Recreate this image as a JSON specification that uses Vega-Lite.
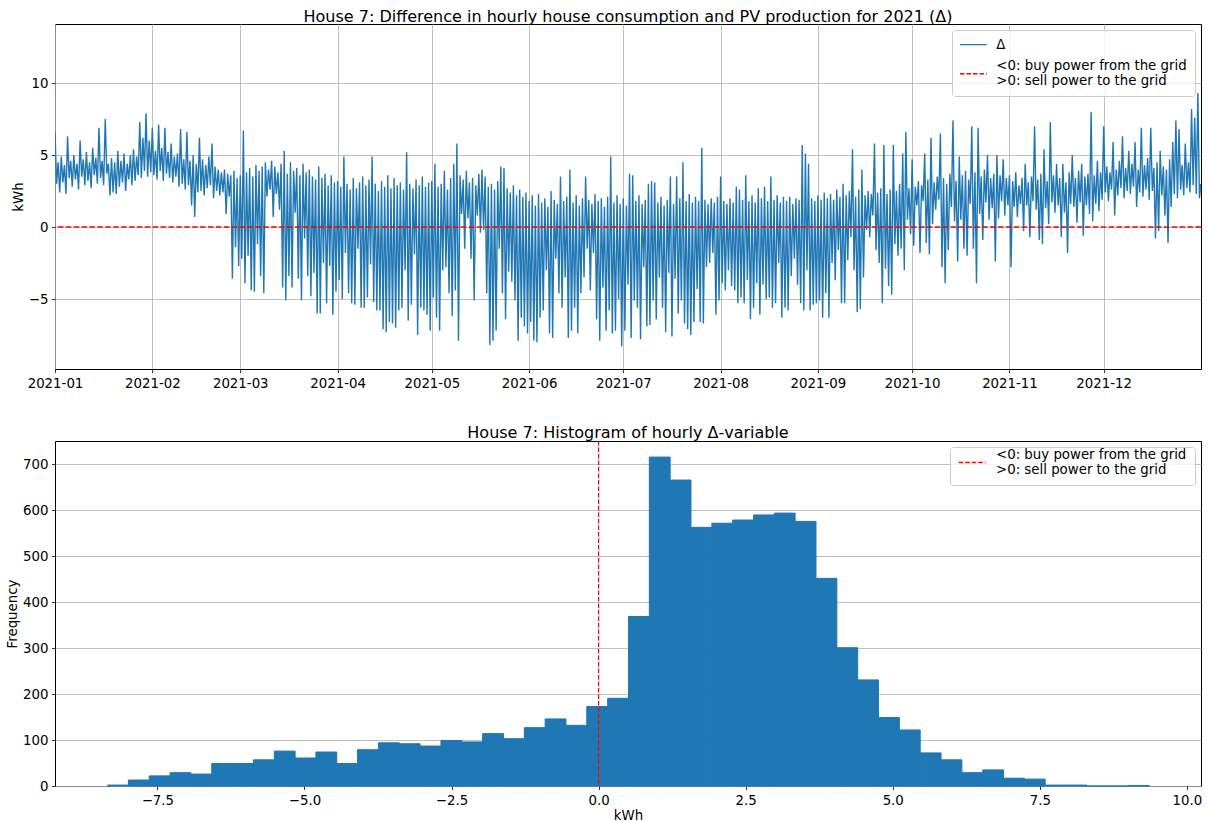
{
"$schema": "https://vega.github.io/schema/vega-lite/v6.json",
"background": "white",
"padding": {"left": 5, "top": 8, "right": 5, "bottom": 5},
"spacing": 34,
"config": {
  "font": "DejaVu Sans",
  "view": {"stroke": "black", "strokeWidth": 1},
  "axis": {"domain": false, "tickColor": "black", "tickSize": 3.5, "tickWidth": 0.8, "labelFontSize": 13.33, "labelColor": "black", "labelFont": "DejaVu Sans", "titleFont": "DejaVu Sans", "titleFontSize": 13.33, "titleFontWeight": "normal", "titleColor": "black", "gridColor": "#b0b0b0", "gridWidth": 0.8, "labelPadding": 3.5, "labelFlush": false},
  "title": {"fontSize": 16, "fontWeight": "normal", "font": "DejaVu Sans", "color": "black", "offset": -1, "anchor": "middle"}
},
"resolve": {"scale": {"color": "independent"}, "legend": {"color": "independent"}},
"vconcat": [
{
  "width": 1146, "height": 345,
  "title": "House 7: Difference in hourly house consumption and PV production for 2021 (Δ)",
  "layer": [
    {
      "data": {"values": "t,v\n0,6.6\n0.5,3.0\n1,4.5\n1.5,2.4\n2,4.9\n2.5,3.1\n3,4.3\n3.5,2.3\n4,6.3\n4.5,3.4\n5,4.6\n5.5,2.8\n6,5.0\n6.5,3.3\n7,4.4\n7.5,2.6\n8,6.0\n8.5,3.5\n9,4.7\n9.5,2.9\n10,5.2\n10.5,3.2\n11,4.5\n11.5,2.7\n12,5.5\n12.5,3.6\n13,4.8\n13.5,3.0\n14,6.9\n14.5,3.4\n15,4.6\n15.5,2.9\n16,7.5\n16.5,3.7\n17,4.4\n17.5,2.2\n18,4.8\n18.5,2.4\n19,4.5\n19.5,2.3\n20,5.3\n20.5,2.8\n21,4.6\n21.5,3.1\n22,5.1\n22.5,2.5\n23,4.4\n23.5,3.3\n24,5.0\n24.5,2.9\n25,5.4\n25.5,3.2\n26,4.9\n26.5,3.6\n27,7.3\n27.5,3.4\n28,6.2\n28.5,3.9\n29,7.9\n29.5,3.5\n30,6.0\n30.5,3.8\n31,6.9\n31.5,3.6\n32,5.3\n32.5,3.3\n33,7.1\n33.5,3.9\n34,5.5\n34.5,3.2\n35,6.9\n35.5,3.7\n36,5.2\n36.5,3.4\n37,5.8\n37.5,3.1\n38,4.9\n38.5,3.5\n39,5.1\n39.5,2.8\n40,6.8\n40.5,3.0\n41,4.7\n41.5,2.6\n42,6.6\n42.5,2.9\n43,4.6\n43.5,1.5\n44,5.0\n44.5,0.7\n45,4.4\n45.5,2.4\n46,6.2\n46.5,2.5\n47,4.7\n47.5,2.2\n48,4.3\n48.5,2.7\n49,4.9\n49.5,2.9\n50,5.8\n50.5,2.0\n51,4.2\n51.5,2.5\n52,4.0\n52.5,2.2\n53,3.8\n53.5,2.4\n54,4.0\n54.5,0.9\n55,3.7\n55.5,2.1\n56,3.6\n56.5,-3.6\n57,3.9\n57.5,-1.4\n58,3.4\n58.5,-2.7\n59,3.6\n59.5,-2.2\n60,6.7\n60.5,-3.9\n61,3.8\n61.5,-2.0\n62,4.1\n62.5,-4.4\n63,3.5\n63.5,-4.5\n64,4.3\n64.5,-1.2\n65,3.9\n65.5,-3.4\n66,4.2\n66.5,-4.6\n67,4.5\n67.5,2.1\n68,4.0\n68.5,2.6\n69,4.6\n69.5,0.7\n70,4.2\n70.5,2.3\n71,3.8\n71.5,1.2\n72,4.4\n72.5,-4.2\n73,5.3\n73.5,-5.1\n74,3.7\n74.5,-3.4\n75,4.5\n75.5,-4.2\n76,3.9\n76.5,1.0\n77,4.1\n77.5,-3.6\n78,3.6\n78.5,-5.1\n79,4.4\n79.5,-0.8\n80,3.8\n80.5,-3.4\n81,4.0\n81.5,-4.8\n82,3.5\n82.5,-3.2\n83,3.3\n83.5,-6.0\n84,4.2\n84.5,-6.0\n85,3.4\n85.5,-2.5\n86,3.7\n86.5,-5.3\n87,2.9\n87.5,-2.7\n88,3.6\n88.5,-6.1\n89,3.1\n89.5,-4.5\n90,3.2\n90.5,-3.7\n91,2.8\n91.5,-5.0\n92,4.9\n92.5,-1.8\n93,3.0\n93.5,-4.6\n94,2.6\n94.5,-5.3\n95,3.4\n95.5,-5.4\n96,2.7\n96.5,-1.5\n97,3.1\n97.5,-5.6\n98,3.5\n98.5,-5.6\n99,2.9\n99.5,-4.9\n100,3.3\n100.5,-2.6\n101,4.9\n101.5,-5.2\n102,3.0\n102.5,-5.8\n103,2.5\n103.5,-5.8\n104,3.2\n104.5,-7.1\n105,2.8\n105.5,-7.3\n106,3.6\n106.5,-6.6\n107,2.7\n107.5,-6.7\n108,3.4\n108.5,-7.0\n109,2.9\n109.5,-5.8\n110,3.1\n110.5,-5.6\n111,2.6\n111.5,-3.0\n112,5.2\n112.5,-6.5\n113,3.0\n113.5,-5.4\n114,2.7\n114.5,-1.9\n115,3.3\n115.5,-7.5\n116,2.9\n116.5,-5.6\n117,3.5\n117.5,-5.8\n118,2.8\n118.5,-6.1\n119,3.1\n119.5,-7.2\n120,3.2\n120.5,-4.9\n121,4.4\n121.5,-6.3\n122,2.8\n122.5,-7.2\n123,3.0\n123.5,-3.0\n124,3.9\n124.5,-2.8\n125,2.6\n125.5,-4.6\n126,3.4\n126.5,-6.2\n127,4.4\n127.5,-4.4\n128,5.8\n128.5,-7.9\n129,3.6\n129.5,0.9\n130,3.3\n130.5,-1.5\n131,3.9\n131.5,0.6\n132,3.1\n132.5,-2.2\n133,3.4\n133.5,-5.1\n134,2.9\n134.5,0.8\n135,3.7\n135.5,-0.4\n136,4.0\n136.5,-0.2\n137,3.5\n137.5,-4.6\n138,2.8\n138.5,-8.2\n139,3.0\n139.5,-7.9\n140,2.6\n140.5,-7.2\n141,3.2\n141.5,-1.5\n142,4.2\n142.5,-4.6\n143,4.1\n143.5,-6.4\n144,2.7\n144.5,-3.1\n145,2.4\n145.5,-3.8\n146,2.9\n146.5,-5.1\n147,2.2\n147.5,-7.9\n148,2.6\n148.5,-6.3\n149,2.1\n149.5,-6.9\n150,2.4\n150.5,-7.4\n151,1.8\n151.5,-6.6\n152,2.2\n152.5,-7.9\n153,1.5\n153.5,-8.0\n154,2.3\n154.5,-6.3\n155,1.7\n155.5,-5.8\n156,2.0\n156.5,-3.0\n157,1.4\n157.5,-7.4\n158,2.5\n158.5,-7.7\n159,1.9\n159.5,-2.2\n160,1.6\n160.5,-4.6\n161,3.5\n161.5,-5.6\n162,1.8\n162.5,-3.5\n163,2.1\n163.5,-7.7\n164,4.0\n164.5,-7.2\n165,1.7\n165.5,-5.6\n166,2.2\n166.5,-7.4\n167,1.5\n167.5,-4.6\n168,2.0\n168.5,-3.5\n169,3.5\n169.5,-1.5\n170,1.9\n170.5,-4.4\n171,1.6\n171.5,-1.8\n172,2.3\n172.5,-6.4\n173,1.8\n173.5,-7.9\n174,2.0\n174.5,-4.2\n175,1.4\n175.5,-7.2\n176,2.1\n176.5,-5.8\n177,4.9\n177.5,-7.4\n178,1.7\n178.5,-7.2\n179,2.2\n179.5,-5.0\n180,1.6\n180.5,-8.3\n181,2.0\n181.5,-7.2\n182,1.5\n182.5,-4.0\n183,3.7\n183.5,-7.7\n184,3.6\n184.5,-5.1\n185,1.8\n185.5,-5.6\n186,2.2\n186.5,-7.8\n187,1.6\n187.5,-2.8\n188,1.9\n188.5,-6.9\n189,3.0\n189.5,-6.8\n190,3.2\n190.5,-5.1\n191,3.1\n191.5,-6.4\n192,1.7\n192.5,-3.5\n193,2.1\n193.5,-5.6\n194,1.5\n194.5,-7.3\n195,1.9\n195.5,-3.2\n196,3.5\n196.5,-7.6\n197,1.6\n197.5,-3.6\n198,3.5\n198.5,-6.0\n199,2.0\n199.5,-5.1\n200,4.5\n200.5,-6.7\n201,1.8\n201.5,-7.1\n202,2.3\n202.5,-7.5\n203,1.7\n203.5,-6.6\n204,2.1\n204.5,-4.3\n205,1.8\n205.5,-6.6\n206,5.5\n206.5,-6.7\n207,1.9\n207.5,-2.8\n208,1.6\n208.5,-2.5\n209,2.0\n209.5,-1.8\n210,1.7\n210.5,-6.1\n211,2.1\n211.5,-5.1\n212,3.5\n212.5,-3.9\n213,1.8\n213.5,-4.4\n214,1.6\n214.5,-3.0\n215,2.0\n215.5,-4.1\n216,1.7\n216.5,-4.4\n217,2.8\n217.5,-5.3\n218,2.6\n218.5,-4.9\n219,1.9\n219.5,-5.3\n220,3.6\n220.5,-3.7\n221,1.8\n221.5,-6.4\n222,2.2\n222.5,-5.6\n223,1.7\n223.5,-3.9\n224,2.7\n224.5,-6.1\n225,2.0\n225.5,-4.0\n226,2.8\n226.5,-5.0\n227,1.8\n227.5,-4.9\n228,3.5\n228.5,-5.6\n229,1.9\n229.5,-5.3\n230,2.2\n230.5,-2.5\n231,1.7\n231.5,-6.3\n232,2.1\n232.5,-5.6\n233,1.8\n233.5,-5.8\n234,2.1\n234.5,-3.4\n235,1.6\n235.5,-2.2\n236,2.0\n236.5,-4.0\n237,1.9\n237.5,-5.3\n238,5.7\n238.5,-5.8\n239,5.1\n239.5,-3.0\n240,4.4\n240.5,-5.8\n241,2.0\n241.5,-5.4\n242,1.8\n242.5,-5.3\n243,2.2\n243.5,-5.1\n244,1.9\n244.5,-6.3\n245,2.4\n245.5,-4.6\n246,2.0\n246.5,-6.3\n247,2.3\n247.5,-2.5\n248,1.9\n248.5,-3.7\n249,2.6\n249.5,-1.6\n250,2.1\n250.5,-5.3\n251,3.0\n251.5,-5.3\n252,2.2\n252.5,-2.3\n253,2.5\n253.5,-0.7\n254,5.4\n254.5,-3.0\n255,2.1\n255.5,-5.9\n256,2.6\n256.5,-5.7\n257,4.0\n257.5,-3.5\n258,2.2\n258.5,-0.2\n259,2.5\n259.5,-0.7\n260,2.3\n260.5,0.8\n261,5.8\n261.5,-1.6\n262,2.4\n262.5,-2.5\n263,2.7\n263.5,-5.3\n264,5.7\n264.5,-2.9\n265,2.3\n265.5,-4.1\n266,2.6\n266.5,-4.7\n267,5.7\n267.5,-1.2\n268,2.5\n268.5,-2.0\n269,3.0\n269.5,-1.5\n270,5.1\n270.5,-3.0\n271,6.6\n271.5,0.5\n272,2.7\n272.5,-0.5\n273,4.7\n273.5,-1.3\n274,2.8\n274.5,1.5\n275,3.2\n275.5,-1.8\n276,2.9\n276.5,1.8\n277,5.1\n277.5,-1.1\n278,3.3\n278.5,-1.9\n279,6.2\n279.5,0.2\n280,3.1\n280.5,1.2\n281,3.5\n281.5,1.9\n282,6.5\n282.5,-2.8\n283,3.4\n283.5,-3.9\n284,3.0\n284.5,-1.6\n285,3.7\n285.5,1.4\n286,7.4\n286.5,0.4\n287,3.2\n287.5,-2.4\n288,4.9\n288.5,0.5\n289,3.6\n289.5,-1.5\n290,3.9\n290.5,-2.0\n291,3.3\n291.5,1.6\n292,7.0\n292.5,-1.5\n293,3.8\n293.5,-3.9\n294,6.9\n294.5,0.9\n295,3.5\n295.5,-0.9\n296,4.0\n296.5,1.7\n297,5.0\n297.5,0.5\n298,3.4\n298.5,1.3\n299,3.7\n299.5,-2.4\n300,5.0\n300.5,0.6\n301,3.6\n301.5,1.8\n302,4.7\n302.5,0.8\n303,3.4\n303.5,1.5\n304,3.6\n304.5,-2.8\n305,3.2\n305.5,1.4\n306,3.8\n306.5,0.7\n307,2.9\n307.5,1.6\n308,3.4\n308.5,-0.3\n309,4.4\n309.5,1.5\n310,3.1\n310.5,-0.7\n311,3.5\n311.5,1.8\n312,7.0\n312.5,1.2\n313,3.3\n313.5,-0.9\n314,3.7\n314.5,-1.2\n315,5.4\n315.5,1.3\n316,3.2\n316.5,0.2\n317,7.3\n317.5,1.7\n318,3.6\n318.5,1.0\n319,4.4\n319.5,1.5\n320,3.4\n320.5,-0.7\n321,4.4\n321.5,1.0\n322,3.1\n322.5,-1.8\n323,3.8\n323.5,1.6\n324,5.0\n324.5,1.4\n325,3.4\n325.5,0.3\n326,3.9\n326.5,1.7\n327,4.4\n327.5,-0.6\n328,3.5\n328.5,1.5\n329,3.7\n329.5,0.9\n330,8.0\n330.5,0.4\n331,3.6\n331.5,1.6\n332,4.6\n332.5,1.1\n333,3.8\n333.5,1.9\n334,7.0\n334.5,2.4\n335,4.2\n335.5,1.8\n336,3.8\n336.5,2.6\n337,5.9\n337.5,0.8\n338,4.0\n338.5,2.2\n339,4.6\n339.5,2.7\n340,6.3\n340.5,2.0\n341,4.1\n341.5,2.5\n342,5.3\n342.5,2.3\n343,4.4\n343.5,2.8\n344,5.9\n344.5,1.4\n345,4.0\n345.5,2.4\n346,6.9\n346.5,2.1\n347,4.3\n347.5,2.6\n348,4.8\n348.5,1.9\n349,6.9\n349.5,2.5\n350,4.1\n350.5,-0.8\n351,4.5\n351.5,-0.3\n352,5.3\n352.5,2.2\n353,4.2\n353.5,0.8\n354,4.0\n354.5,-1.1\n355,4.7\n355.5,1.4\n356,5.9\n356.5,2.3\n357,7.4\n357.5,2.0\n358,6.8\n358.5,2.6\n359,4.3\n359.5,2.2\n360,5.8\n360.5,2.7\n361,4.5\n361.5,2.4\n362,8.2\n362.5,2.9\n363,7.6\n363.5,2.3\n364,9.3\n364.5,2.0\n364.95,3.0", "format": {"type": "csv", "parse": {"t": "number", "v": "number"}}},
      "mark": {"type": "line", "strokeWidth": 1.4, "clip": true},
      "encoding": {
        "x": {"field": "t", "type": "quantitative", "scale": {"domain": [0, 365], "nice": false, "zero": false},
              "axis": {"values": [0, 31, 59, 90, 120, 151, 181, 212, 243, 273, 304, 334], "labelExpr": "timeFormat(datetime(2021, 0, 1 + datum.value), '%Y-%m')", "title": null, "grid": true}},
        "y": {"field": "v", "type": "quantitative", "scale": {"domain": [-9.86, 14.1], "nice": false, "zero": false},
              "axis": {"values": [-5, 0, 5, 10], "labelExpr": "replace(format(datum.value, 'd'), '-', '−')", "title": "kWh", "titlePadding": 3, "grid": true}},
        "color": {"datum": "Δ", "type": "nominal",
          "scale": {"domain": ["Δ", "L"], "range": ["#1f77b4", "red"]},
          "legend": {"title": null, "orient": "top-right", "offset": 6, "symbolType": "M-1,0H3", "symbolSize": 180, "symbolStrokeWidth": 1.3,
                     "labelFontSize": 13.33, "labelFont": "DejaVu Sans", "labelColor": "black", "labelOffset": 23, "labelLimit": 400,
                     "fillColor": "rgba(255,255,255,0.8)", "strokeColor": "#cccccc", "padding": 8, "cornerRadius": 3, "rowPadding": 8,
                     "labelExpr": "datum.value == 'L' ? ['<0: buy power from the grid', '>0: sell power to the grid'] : datum.label",
                     "encode": {"symbols": {"update": {"strokeDash": {"signal": "datum.value == 'L' ? [4.5, 2] : [1, 0]"}, "strokeWidth": {"signal": "datum.value == 'L' ? 1.5 : 1.1"}}}, "labels": {"update": {"lineHeight": {"value": 15}, "dy": {"signal": "datum.value == 'L' ? -7.5 : 0"}}}}}}
      }
    },
    {
      "data": {"values": [{}]},
      "mark": {"type": "rule", "strokeWidth": 1.4, "strokeDash": [5.5, 2.4]},
      "encoding": {"y": {"datum": 0}, "color": {"datum": "L", "type": "nominal"}}
    }
  ]
},
{
  "width": 1146, "height": 345,
  "title": "House 7: Histogram of hourly Δ-variable",
  "layer": [
    {
      "data": {"values": [{"a":-8.355,"b":-8.001,"n":2},{"a":-8.001,"b":-7.647,"n":13},{"a":-7.647,"b":-7.292,"n":22},{"a":-7.292,"b":-6.938,"n":29},{"a":-6.938,"b":-6.584,"n":26},{"a":-6.584,"b":-6.23,"n":49},{"a":-6.23,"b":-5.876,"n":49},{"a":-5.876,"b":-5.521,"n":57},{"a":-5.521,"b":-5.167,"n":76},{"a":-5.167,"b":-4.813,"n":61},{"a":-4.813,"b":-4.459,"n":74},{"a":-4.459,"b":-4.105,"n":49},{"a":-4.105,"b":-3.751,"n":79},{"a":-3.751,"b":-3.396,"n":94},{"a":-3.396,"b":-3.042,"n":92},{"a":-3.042,"b":-2.688,"n":87},{"a":-2.688,"b":-2.334,"n":99},{"a":-2.334,"b":-1.98,"n":96},{"a":-1.98,"b":-1.625,"n":114},{"a":-1.625,"b":-1.271,"n":103},{"a":-1.271,"b":-0.917,"n":127},{"a":-0.917,"b":-0.563,"n":146},{"a":-0.563,"b":-0.209,"n":132},{"a":-0.209,"b":0.146,"n":173},{"a":0.146,"b":0.5,"n":191},{"a":0.5,"b":0.854,"n":369},{"a":0.854,"b":1.208,"n":716},{"a":1.208,"b":1.562,"n":666},{"a":1.562,"b":1.917,"n":563},{"a":1.917,"b":2.271,"n":572},{"a":2.271,"b":2.625,"n":579},{"a":2.625,"b":2.979,"n":590},{"a":2.979,"b":3.333,"n":594},{"a":3.333,"b":3.687,"n":576},{"a":3.687,"b":4.042,"n":452},{"a":4.042,"b":4.396,"n":301},{"a":4.396,"b":4.75,"n":231},{"a":4.75,"b":5.104,"n":149},{"a":5.104,"b":5.458,"n":122},{"a":5.458,"b":5.813,"n":72},{"a":5.813,"b":6.167,"n":57},{"a":6.167,"b":6.521,"n":29},{"a":6.521,"b":6.875,"n":35},{"a":6.875,"b":7.229,"n":17},{"a":7.229,"b":7.583,"n":15},{"a":7.583,"b":7.938,"n":2},{"a":7.938,"b":8.292,"n":2},{"a":8.292,"b":8.646,"n":0},{"a":8.646,"b":9.0,"n":0},{"a":9.0,"b":9.355,"n":1}]},
      "mark": {"type": "bar", "color": "#1f77b4", "binSpacing": 0, "stroke": "#1f77b4", "strokeWidth": 1},
      "encoding": {
        "x": {"field": "a", "type": "quantitative", "bin": {"binned": true}, "scale": {"domain": [-9.24, 10.24], "nice": false, "zero": false},
              "axis": {"values": [-7.5, -5, -2.5, 0, 2.5, 5, 7.5, 10], "labelExpr": "replace(format(datum.value, '.1f'), '-', '−')", "title": "kWh", "titlePadding": 2, "grid": false}},
        "x2": {"field": "b"},
        "y": {"field": "n", "type": "quantitative", "scale": {"domain": [0, 751], "nice": false, "zero": true},
              "axis": {"values": [0, 100, 200, 300, 400, 500, 600, 700], "title": "Frequency", "titlePadding": 3, "grid": true}}
      }
    },
    {
      "data": {"values": [{}]},
      "mark": {"type": "rule", "strokeWidth": 1.2, "strokeDash": [4.5, 2]},
      "encoding": {"x": {"datum": 0},
        "color": {"datum": "L", "type": "nominal", "scale": {"domain": ["L"], "range": ["red"]},
          "legend": {"title": null, "orient": "top-right", "offset": 6, "symbolType": "M-1,0H3", "symbolSize": 180, "symbolStrokeWidth": 1.5,
                     "labelFontSize": 13.33, "labelFont": "DejaVu Sans", "labelColor": "black", "labelOffset": 23, "labelLimit": 400,
                     "fillColor": "rgba(255,255,255,0.8)", "strokeColor": "#cccccc", "padding": 8, "cornerRadius": 3,
                     "labelExpr": "['<0: buy power from the grid', '>0: sell power to the grid']",
                     "encode": {"symbols": {"update": {"strokeDash": {"value": [4.5, 2]}}}, "labels": {"update": {"lineHeight": {"value": 15}, "dy": {"value": -7.5}}}}}}
      }
    }
  ]
}
]
}
